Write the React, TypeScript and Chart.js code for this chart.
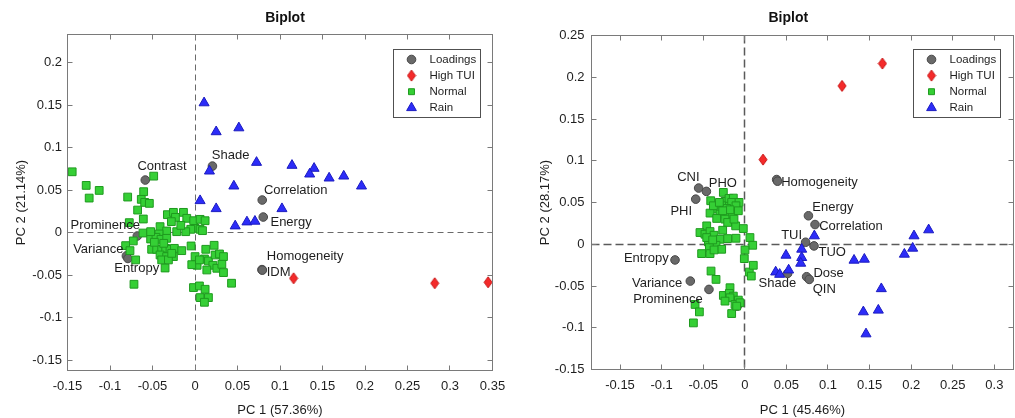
import React, { useEffect, useRef } from 'react';
import { Chart, registerables } from 'chart.js';
import { drawPoint } from 'chart.js/helpers';

Chart.register(...registerables);
Chart.defaults.font.family = '"Liberation Sans", Arial, sans-serif';

// ---------------- LEFT BIPLOT DATA ----------------
const leftXTicks = [-0.15, -0.1, -0.05, 0, 0.05, 0.1, 0.15, 0.2, 0.25, 0.3, 0.35];
const leftYTicks = [-0.15, -0.1, -0.05, 0, 0.05, 0.1, 0.15, 0.2];
const leftLoadingNames = ['Contrast', 'Shade', 'Correlation', 'Energy', 'Homogeneity', 'IDM', 'Prominence', 'Variance', 'Entropy'];
const leftLoadings: [number, number][] = [
  [-0.0585, 0.0619], [0.0205, 0.0783], [0.0791, 0.0384], [0.0803, 0.0184], [0.0788, -0.0434],
  [0.0792, -0.044], [-0.0679, -0.0039], [-0.0807, -0.0273], [-0.0789, -0.0303],
];
const leftHighTUI: [number, number][] = [[0.116, -0.0536], [0.282, -0.0594], [0.3448, -0.0583]];
const leftRain: [number, number][] = [
  [0.0107, 0.1526], [0.0249, 0.1186], [0.0516, 0.1232], [0.0724, 0.0826], [0.017, 0.0724],
  [0.1141, 0.0791], [0.1401, 0.0756], [0.1349, 0.0689], [0.1578, 0.0642], [0.175, 0.0665],
  [0.1959, 0.0548], [0.0457, 0.0548], [0.006, 0.0376], [0.0249, 0.0282], [0.1023, 0.0282],
  [0.0473, 0.0079], [0.0611, 0.0126], [0.0705, 0.0134],
];
const leftNormal: [number, number][] = [
  [-0.1445, 0.0716], [-0.0486, 0.0665], [-0.128, 0.0556], [-0.1127, 0.0497], [-0.1245, 0.0407],
  [-0.0792, 0.0419], [-0.0604, 0.0482], [-0.0632, 0.0392], [-0.0592, 0.0356], [-0.0537, 0.0345],
  [-0.0675, 0.0266], [-0.0608, 0.0161], [-0.0773, 0.0118], [-0.0612, -0.0004], [-0.0726, -0.0097],
  [-0.0816, -0.0152], [-0.0765, -0.0211], [-0.0698, -0.032], [-0.0718, -0.0606], [-0.0325, 0.0212],
  [-0.0254, 0.0239], [-0.0136, 0.0239], [-0.023, 0.018], [-0.0097, 0.0169], [-0.0278, 0.013],
  [-0.0015, 0.0141], [0.006, 0.0157], [0.0119, 0.0141], [0.0001, 0.0051], [0.006, 0.004],
  [0.0088, 0.0024], [-0.005, 0.004], [-0.0215, 0.0012], [-0.0109, 0.0012], [-0.0411, 0.0071],
  [-0.0333, 0.002], [-0.0423, -0.0015], [-0.0522, -0.0074], [-0.0459, -0.0054], [-0.04, -0.0078],
  [-0.0333, -0.0066], [-0.051, -0.0195], [-0.0451, -0.0195], [-0.0392, -0.0195], [-0.0345, -0.0184],
  [-0.0294, -0.0195], [-0.0243, -0.0184], [-0.0411, -0.0262], [-0.0333, -0.0281], [-0.0254, -0.0281],
  [-0.0392, -0.032], [-0.0313, -0.032], [-0.0352, -0.0415], [-0.0156, -0.0211], [-0.0046, -0.0156],
  [0.0001, -0.0281], [0.0025, -0.0383], [-0.0038, -0.0376], [0.0127, -0.0195], [0.0225, -0.0148],
  [0.0111, -0.0309], [0.0052, -0.032], [0.0158, -0.0332], [0.0237, -0.0262], [0.0288, -0.025],
  [0.0335, -0.0281], [0.021, -0.0383], [0.0139, -0.0438], [0.0257, -0.0418], [0.0316, -0.0371],
  [0.0335, -0.0469], [0.043, -0.0594], [-0.0018, -0.0645], [0.0052, -0.0626], [0.0119, -0.0665],
  [0.006, -0.0763], [0.0158, -0.0763], [0.0111, -0.0818], [-0.0167, 0.0086], [-0.0368, -0.0125],
  [-0.0478, -0.0113], [-0.0274, -0.0243], [-0.0522, 0.0012],
];

// ---------------- RIGHT BIPLOT DATA ----------------
const rightXTicks = [-0.15, -0.1, -0.05, 0, 0.05, 0.1, 0.15, 0.2, 0.25, 0.3];
const rightYTicks = [-0.15, -0.1, -0.05, 0, 0.05, 0.1, 0.15, 0.2, 0.25];
const rightLoadingNames = ['CNI', 'PHO', 'PHI', 'Homogeneity', '', 'Energy', 'Correlation', 'TUI', 'TUO', 'Dose', 'QIN', 'Shade', 'Entropy', 'Variance', 'Prominence', ''];
const rightLoadings: [number, number][] = [
  [-0.0555, 0.0673], [-0.0462, 0.0633], [-0.059, 0.054], [0.0383, 0.0775], [0.0393, 0.0755],
  [0.0765, 0.0341], [0.0844, 0.0236], [0.0731, 0.0024], [0.0832, -0.002], [0.0743, -0.0389],
  [0.0775, -0.0421], [0.0515, -0.0349], [-0.0839, -0.0188], [-0.0655, -0.0441], [-0.0431, -0.0541],
  [-0.009, -0.0741],
];
const rightHighTUI: [number, number][] = [[0.0219, 0.1014], [0.1169, 0.1896], [0.1654, 0.2164]];
const rightRain: [number, number][] = [
  [0.0836, 0.01], [0.0495, -0.0132], [0.0684, -0.006], [0.0684, -0.016], [0.0672, -0.0228],
  [0.0371, -0.0333], [0.0419, -0.0361], [0.0527, -0.0309], [0.1313, -0.0192], [0.1437, -0.018],
  [0.1918, -0.012], [0.2018, -0.0048], [0.2034, 0.01], [0.221, 0.0172], [0.1641, -0.0533],
  [0.1425, -0.081], [0.1605, -0.079], [0.1457, -0.1074],
];
const rightNormal: [number, number][] = [
  [-0.0258, 0.0621], [-0.041, 0.0521], [-0.0238, 0.0513], [-0.019, 0.0549], [-0.0138, 0.0553],
  [-0.0158, 0.0501], [-0.007, 0.0501], [-0.0278, 0.0461], [-0.0218, 0.0429], [-0.0106, 0.0461],
  [-0.0338, 0.0421], [-0.0418, 0.0373], [-0.0298, 0.0361], [-0.0198, 0.0341], [-0.0146, 0.0361],
  [-0.0078, 0.0401], [-0.0338, 0.0309], [-0.0238, 0.0301], [-0.0206, 0.0261], [-0.011, 0.022],
  [-0.0018, 0.0188], [-0.0458, 0.022], [-0.0539, 0.014], [-0.0479, 0.012], [-0.0418, 0.0152],
  [-0.037, 0.0108], [-0.0298, 0.006], [-0.0206, 0.0068], [-0.0106, 0.0072], [-0.0438, 0.0028],
  [-0.0346, -0.0012], [-0.0426, -0.004], [-0.0278, -0.006], [-0.0519, -0.0112], [-0.0418, -0.0112],
  [-0.037, -0.0068], [0.0062, 0.008], [0.0095, -0.0012], [0.0002, -0.0068], [-0.0006, -0.0172],
  [0.0054, -0.0333], [0.0102, -0.0252], [0.0078, -0.0381], [-0.0406, -0.0321], [-0.0346, -0.0421],
  [-0.0178, -0.0521], [-0.0258, -0.0613], [-0.0186, -0.0589], [-0.0138, -0.0621], [-0.0078, -0.0669],
  [-0.0178, -0.0641], [-0.0238, -0.0681], [-0.0118, -0.0721], [-0.0058, -0.0701], [-0.0158, -0.083],
  [-0.0598, -0.0721], [-0.0546, -0.081], [-0.0618, -0.0942], [-0.0098, -0.0741], [-0.0378, 0.0461],
  [-0.0306, 0.0501], [-0.0178, 0.0413], [-0.0266, 0.0401], [-0.013, 0.0301], [-0.0458, 0.008],
  [-0.0386, 0.0052], [-0.0266, 0.0168],
];

const seriesNames = ['Loadings', 'High TUI', 'Normal', 'Rain'];

// ---------------- STYLE / LAYOUT (not data) ----------------
const leftLabelOffsets: [number, number][] = [
  [16.7, -13.3], [18.2, -10.7], [33.5, -9.3], [27.8, 5.7], [43.1, -13], [16.3, 2], [-32.1, -10.3], [-28.1, -6.6], [8.8, 10.2],
];
const rightLabelOffsets: [number, number][] = [
  [-10.3, -10.7], [16.5, -8.3], [-14.5, 12.3], [42.8, 2.8], [0, 0], [24.4, -8], [36, 1.7], [-14, -7],
  [18.2, 6.3], [22, -3.3], [15, 9.6], [-10.3, 10.5], [-28.7, -1.3], [-33.2, 2], [-41, 9.7], [0, 0],
];

const FONT = '"Liberation Sans", Arial, sans-serif';
const TEXT = '#1e1e1e';
const AXIS = '#7a7a7a';

interface Spec {
  left: number; width: number;
  xMin: number; xMax: number; yMin: number; yMax: number;
  xTicks: number[]; yTicks: number[];
  padTop: number; padRight: number; yAxisWidth: number; xAxisHeight: number;
  xTickPad: number; yTickPad: number; yTitlePad: number;
  xTitle: string; yTitle: string; titleX: number;
  loadings: [number, number][]; names: string[]; offsets: [number, number][];
  high: [number, number][]; normal: [number, number][]; rain: [number, number][];
  zeroDash: number[]; zeroWidth: number; zeroColor: string;
  legend: { right: number; top: number; w: number; h: number };
}

const leftSpec: Spec = {
  left: 0, width: 507,
  xMin: -0.15, xMax: 0.35, yMin: -0.162, yMax: 0.233,
  xTicks: leftXTicks, yTicks: leftYTicks,
  padTop: 34.5, padRight: 14.5, yAxisWidth: 67.5, xAxisHeight: 47.5,
  xTickPad: 8.4, yTickPad: 5.5, yTitlePad: 13.2,
  xTitle: 'PC 1 (57.36%)', yTitle: 'PC 2 (21.14%)', titleX: 285,
  loadings: leftLoadings, names: leftLoadingNames, offsets: leftLabelOffsets,
  high: leftHighTUI, normal: leftNormal, rain: leftRain,
  zeroDash: [6, 4], zeroWidth: 1, zeroColor: '#6a6a6a',
  legend: { right: 13, top: 14, w: 87, h: 68 },
};

const rightSpec: Spec = {
  left: 507, width: 508,
  xMin: -0.1843, xMax: 0.323, yMin: -0.15, yMax: 0.25,
  xTicks: rightXTicks, yTicks: rightYTicks,
  padTop: 35.5, padRight: 1.5, yAxisWidth: 84.5, xAxisHeight: 48.5,
  xTickPad: 7.7, yTickPad: 7, yTitlePad: 30.2,
  xTitle: 'PC 1 (45.46%)', yTitle: 'PC 2 (28.17%)', titleX: 281.3,
  loadings: rightLoadings, names: rightLoadingNames, offsets: rightLabelOffsets,
  high: rightHighTUI, normal: rightNormal, rain: rightRain,
  zeroDash: [8, 4], zeroWidth: 1.5, zeroColor: '#5a5a5a',
  legend: { right: 13.5, top: 13.5, w: 87, h: 68 },
};

const fmtTick = (v: number | string) => String(parseFloat(Number(v).toFixed(2)));
const toPts = (arr: [number, number][]) => arr.map(([x, y]) => ({ x, y }));

function makeDiamond(w: number, h: number, fill: string, stroke: string) {
  const c = document.createElement('canvas');
  c.width = w + 2;
  c.height = h + 2;
  const g = c.getContext('2d')!;
  g.beginPath();
  g.moveTo(c.width / 2, 1);
  g.lineTo(c.width - 1, c.height / 2);
  g.lineTo(c.width / 2, c.height - 1);
  g.lineTo(1, c.height / 2);
  g.closePath();
  g.fillStyle = fill;
  g.fill();
  g.strokeStyle = stroke;
  g.lineWidth = 1;
  g.stroke();
  return c;
}

function BiplotChart({ spec }: { spec: Spec }) {
  const ref = useRef<HTMLCanvasElement | null>(null);
  useEffect(() => {
    if (!ref.current) return;
    const diamond = makeDiamond(8, 11, '#f42a2a', '#c81414');
    const legendRadii = [4.3, 0, 4.2, 5.6];

    const deco = {
      id: 'biplotDeco',
      beforeDatasetsDraw(chart: any) {
        const { ctx, chartArea: a, scales } = chart;
        const px = Math.floor(scales.x.getPixelForValue(0)) + 0.5;
        const py = Math.floor(scales.y.getPixelForValue(0)) + 0.5;
        ctx.save();
        ctx.strokeStyle = spec.zeroColor;
        ctx.lineWidth = spec.zeroWidth;
        ctx.setLineDash(spec.zeroDash);
        ctx.beginPath();
        ctx.moveTo(px, a.top);
        ctx.lineTo(px, a.bottom);
        ctx.moveTo(a.left, py);
        ctx.lineTo(a.right, py);
        ctx.stroke();
        ctx.restore();
      },
      afterDatasetsDraw(chart: any) {
        const { ctx, scales } = chart;
        ctx.save();
        ctx.font = `13px ${FONT}`;
        ctx.fillStyle = TEXT;
        ctx.textAlign = 'center';
        ctx.textBaseline = 'middle';
        spec.names.forEach((name, i) => {
          if (!name) return;
          const [vx, vy] = spec.loadings[i];
          const [dx, dy] = spec.offsets[i];
          ctx.fillText(name, scales.x.getPixelForValue(vx) + dx, scales.y.getPixelForValue(vy) + dy);
        });
        ctx.restore();
      },
      afterDraw(chart: any) {
        const { ctx, chartArea: a, scales } = chart;
        ctx.save();
        ctx.strokeStyle = AXIS;
        ctx.lineWidth = 1;
        ctx.strokeRect(a.left, a.top, a.right - a.left, a.bottom - a.top);
        const tl = 5;
        ctx.beginPath();
        scales.x.ticks.forEach((t: any) => {
          const p = Math.floor(scales.x.getPixelForValue(t.value)) + 0.5;
          ctx.moveTo(p, a.bottom);
          ctx.lineTo(p, a.bottom - tl);
          ctx.moveTo(p, a.top);
          ctx.lineTo(p, a.top + tl);
        });
        scales.y.ticks.forEach((t: any) => {
          const p = Math.floor(scales.y.getPixelForValue(t.value)) + 0.5;
          ctx.moveTo(a.left, p);
          ctx.lineTo(a.left + tl, p);
          ctx.moveTo(a.right, p);
          ctx.lineTo(a.right - tl, p);
        });
        ctx.stroke();
        ctx.font = `bold 14px ${FONT}`;
        ctx.fillStyle = '#111';
        ctx.textAlign = 'center';
        ctx.textBaseline = 'middle';
        ctx.fillText('Biplot', spec.titleX, 18);
        const L = spec.legend;
        const bx = Math.round(a.right - L.right - L.w) + 0.5;
        const by = Math.round(a.top + L.top) + 0.5;
        ctx.fillStyle = '#fff';
        ctx.fillRect(bx, by, L.w, L.h);
        ctx.strokeStyle = '#505050';
        ctx.strokeRect(bx, by, L.w, L.h);
        ctx.font = `11.5px ${FONT}`;
        ctx.textAlign = 'left';
        chart.data.datasets.forEach((ds: any, i: number) => {
          const cy = by + 10 + i * 16.1;
          ctx.fillStyle = ds.backgroundColor;
          ctx.strokeStyle = ds.borderColor;
          ctx.lineWidth = 1;
          drawPoint(ctx, { pointStyle: ds.pointStyle, radius: legendRadii[i], borderWidth: 1, rotation: 0 } as any, bx + 18, cy);
          ctx.fillStyle = TEXT;
          ctx.fillText(ds.label, bx + 36, cy);
        });
        ctx.restore();
      },
    };

    const axisBase = (isX: boolean) => ({
      type: 'linear' as const,
      position: isX ? ('bottom' as const) : ('left' as const),
      min: isX ? spec.xMin : spec.yMin,
      max: isX ? spec.xMax : spec.yMax,
      afterBuildTicks: (s: any) => {
        s.ticks = (isX ? spec.xTicks : spec.yTicks).map((v) => ({ value: v }));
      },
      afterFit: (s: any) => {
        if (isX) {
          s.height = spec.xAxisHeight;
          s.paddingLeft = 0;
          s.paddingRight = 0;
        } else {
          s.width = spec.yAxisWidth;
          s.paddingTop = 0;
          s.paddingBottom = 0;
        }
      },
      grid: { display: false, drawTicks: false },
      border: { display: false },
      ticks: {
        padding: isX ? spec.xTickPad : spec.yTickPad,
        color: TEXT,
        font: { size: 13, family: FONT },
        autoSkip: false,
        maxRotation: 0,
        callback: (v: any) => fmtTick(v),
      },
      title: {
        display: true,
        text: isX ? spec.xTitle : spec.yTitle,
        color: TEXT,
        font: { size: 13, family: FONT },
        padding: isX ? { top: 0, bottom: 0 } : { top: spec.yTitlePad, bottom: 0 },
      },
    });

    const chart = new Chart(ref.current, {
      type: 'scatter',
      data: {
        datasets: [
          {
            label: seriesNames[0], data: toPts(spec.loadings), pointStyle: 'circle', radius: 4.3,
            backgroundColor: '#696969', borderColor: '#474747', borderWidth: 1, order: 3,
          },
          {
            label: seriesNames[1], data: toPts(spec.high), pointStyle: diamond as any, radius: 5,
            backgroundColor: '#f42a2a', borderColor: '#c81414', borderWidth: 1, order: 0,
          },
          {
            label: seriesNames[2], data: toPts(spec.normal), pointStyle: 'rect', radius: 5.5,
            backgroundColor: '#35cf35', borderColor: '#1f9a1f', borderWidth: 1, order: 2,
          },
          {
            label: seriesNames[3], data: toPts(spec.rain), pointStyle: 'triangle', radius: 5.8,
            backgroundColor: '#2c2cf8', borderColor: '#1b1bc0', borderWidth: 1, order: 1,
          },
        ] as any,
      },
      options: {
        animation: false,
        responsive: false,
        devicePixelRatio: 1,
        events: [],
        layout: { autoPadding: false, padding: { left: 0, top: spec.padTop, right: spec.padRight, bottom: 0 } },
        plugins: { legend: { display: false }, tooltip: { enabled: false }, title: { display: false } },
        scales: { x: axisBase(true) as any, y: axisBase(false) as any },
      },
      plugins: [deco],
    });
    return () => chart.destroy();
  }, [spec]);

  return (
    <canvas
      ref={ref}
      width={spec.width}
      height={418}
      style={{ position: 'absolute', left: spec.left, top: 0, width: spec.width, height: 418 }}
    />
  );
}

export default function App() {
  return (
    <div style={{ position: 'absolute', left: 0, top: 0, width: 1015, height: 418, background: '#fff', overflow: 'hidden' }}>
      <BiplotChart spec={leftSpec} />
      <BiplotChart spec={rightSpec} />
    </div>
  );
}
